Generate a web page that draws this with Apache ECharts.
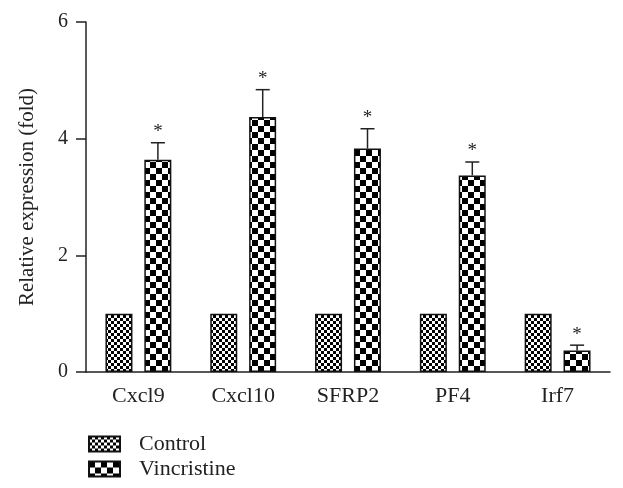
<!DOCTYPE html>
<html><head><meta charset="utf-8">
<script src="https://cdn.jsdelivr.net/npm/echarts@6/dist/echarts.min.js"></script>
<style>html,body{margin:0;padding:0;background:#fff}#c{width:623px;height:488px}</style>
</head><body><div id="c"></div>
<script>
const categories = ['Cxcl9', 'Cxcl10', 'SFRP2', 'PF4', 'Irf7'];
const controlValues = [1, 1, 1, 1, 1];
const vincristineValues = [3.64, 4.37, 3.83, 3.37, 0.37];
const vincristineErrTop = [3.93, 4.84, 4.17, 3.60, 0.46];
const yTicks = [0, 2, 4, 6];

function checker(cell) {
  const c = document.createElement('canvas');
  c.width = cell * 2; c.height = cell * 2;
  const g = c.getContext('2d');
  g.fillStyle = '#fff'; g.fillRect(0, 0, c.width, c.height);
  g.fillStyle = '#000';
  g.fillRect(0, 0, cell, cell);
  g.fillRect(cell, cell, cell, cell);
  return { image: c, repeat: 'repeat' };
}
const fineP = checker(3);
const coarseP = checker(6);
const FONT = '"Liberation Serif", "DejaVu Serif", serif';
const legendBase = {
  orient: 'horizontal', left: 83, itemWidth: 31, itemHeight: 15, icon: 'rect',
  textStyle: { fontFamily: FONT, fontSize: 22, color: '#222', padding: [0, 0, 0, 14] }
};

const chart = echarts.init(document.getElementById('c'), null, { renderer: 'canvas' });
chart.setOption({
  animation: false,
  backgroundColor: '#fff',
  grid: { left: 86, right: 13, top: 22, bottom: 116 },
  legend: [
    Object.assign({}, legendBase, { top: 428, data: ['Control'] }),
    Object.assign({}, legendBase, { top: 453, data: ['Vincristine'] })
  ],
  xAxis: {
    type: 'category', data: categories,
    axisLine: { lineStyle: { color: '#222', width: 1.5 } },
    axisTick: { alignWithLabel: true, length: 8, lineStyle: { color: '#222', width: 1.5 } },
    axisLabel: { fontFamily: FONT, fontSize: 22, color: '#222', margin: 13 }
  },
  yAxis: {
    type: 'value', min: 0, max: 6, interval: 2,
    name: 'Relative expression (fold)', nameLocation: 'middle', nameGap: 48,
    nameTextStyle: { fontFamily: FONT, fontSize: 21, color: '#222' },
    axisLine: { show: true, lineStyle: { color: '#222', width: 1.5 } },
    axisTick: { show: true, length: 10, lineStyle: { color: '#222', width: 1.5 } },
    axisLabel: { fontFamily: FONT, fontSize: 20, color: '#222', margin: 18,
      formatter: v => yTicks.includes(v) ? String(v) : '' },
    splitLine: { show: false }
  },
  series: [
    { name: 'Control', type: 'bar', data: controlValues, barWidth: 27, barGap: '44%',
      itemStyle: { color: fineP, borderColor: '#111', borderWidth: 1.5 } },
    { name: 'Vincristine', type: 'bar', data: vincristineValues, barWidth: 27,
      itemStyle: { color: coarseP, borderColor: '#111', borderWidth: 1.5 } },
    { name: 'err', type: 'custom', z: 5,
      data: vincristineValues.map((v, i) => [i, v, vincristineErrTop[i]]),
      renderItem: function (params, api) {
        const i = api.value(0);
        const base = api.coord([i, api.value(1)]);
        const top = api.coord([i, api.value(2)]);
        const x = base[0] + 19.5;
        return { type: 'group', children: [
          { type: 'line', shape: { x1: x, y1: base[1], x2: x, y2: top[1] }, style: { stroke: '#222', lineWidth: 1.5 } },
          { type: 'line', shape: { x1: x - 7, y1: top[1], x2: x + 7, y2: top[1] }, style: { stroke: '#222', lineWidth: 1.5 } },
          { type: 'text', x: x, y: top[1] - 1, style: { text: '*', fontFamily: FONT, fontSize: 19, fill: '#222', align: 'center', verticalAlign: 'bottom' } }
        ] };
      }
    }
  ]
});
</script></body></html>
